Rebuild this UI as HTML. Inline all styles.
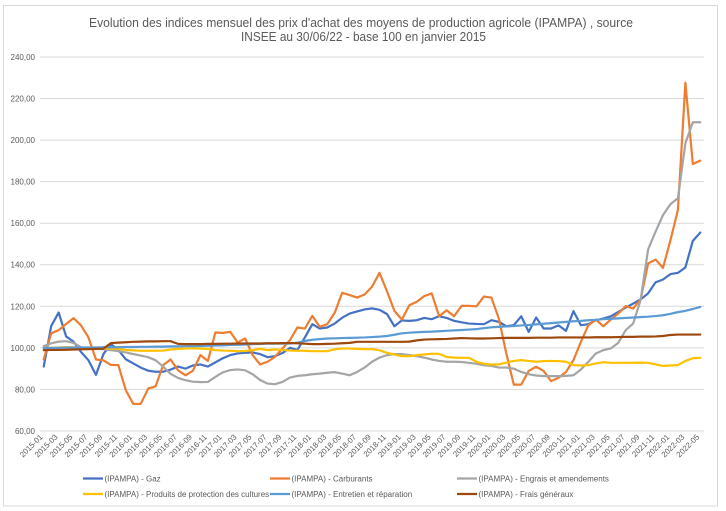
<!DOCTYPE html>
<html><head><meta charset="utf-8"><style>
html,body{margin:0;padding:0;background:#fff;}
svg{display:block;font-family:"Liberation Sans",Arial,sans-serif;}
.yl{font-size:8px;fill:#595959;text-anchor:end;}
.xl{font-size:7.8px;fill:#595959;text-anchor:end;}
.lg{font-size:8px;fill:#595959;}
.s{fill:none;stroke-width:2.2;stroke-linejoin:round;stroke-linecap:round;vector-effect:non-scaling-stroke;}
</style></head><body>
<svg width="726" height="511" viewBox="0 0 726 511" xmlns="http://www.w3.org/2000/svg">
<rect x="0" y="0" width="726" height="511" fill="#fff"/>
<rect x="3.5" y="5.5" width="714" height="500.5" fill="#fff" stroke="#D9D9D9" stroke-width="1"/>
<text x="361" y="27" font-size="12.5" fill="#595959" text-anchor="middle" textLength="544" lengthAdjust="spacingAndGlyphs">Evolution des indices mensuel des prix d'achat des moyens de production agricole (IPAMPA) , source</text>
<text x="363.5" y="41" font-size="12.5" fill="#595959" text-anchor="middle" textLength="245" lengthAdjust="spacingAndGlyphs">INSEE au 30/06/22 - base 100 en janvier 2015</text>
<g stroke="#D9D9D9" stroke-width="1">
<line x1="40" y1="57" x2="704" y2="57"/>
<line x1="40" y1="98.55" x2="704" y2="98.55"/>
<line x1="40" y1="140.1" x2="704" y2="140.1"/>
<line x1="40" y1="181.65" x2="704" y2="181.65"/>
<line x1="40" y1="223.2" x2="704" y2="223.2"/>
<line x1="40" y1="264.75" x2="704" y2="264.75"/>
<line x1="40" y1="306.3" x2="704" y2="306.3"/>
<line x1="40" y1="347.85" x2="704" y2="347.85"/>
<line x1="40" y1="389.4" x2="704" y2="389.4"/>
<line x1="40" y1="430.95" x2="704" y2="430.95"/>
</g>
<g class="yl">
<text x="35" y="60">240,00</text>
<text x="35" y="101.5">220,00</text>
<text x="35" y="143">200,00</text>
<text x="35" y="184.6">180,00</text>
<text x="35" y="226.2">160,00</text>
<text x="35" y="267.7">140,00</text>
<text x="35" y="309.3">120,00</text>
<text x="35" y="350.8">100,00</text>
<text x="35" y="392.4">80,00</text>
<text x="35" y="433.9">60,00</text>
</g>
<g transform="matrix(7.461 0 0 -2.0775 43.73 555.6)">
<polyline class="s" stroke="#4472C4" points="0,91 1,110.5 2,117 3,105.5 4,103 5,98 6,94 7,87 8,97 9,101.8 10,99 11,94.5 12,92.5 13,90.5 14,89 15,88.5 16,88.5 17,89.5 18,91 19,90 20,91.5 21,92 22,91 23,93 24,95 25,96.5 26,97.3 27,97.6 28,97.8 29,97 30,95.5 31,96 32,97.5 33,100 34,99 35,105 36,111.4 37,109.3 38,109.8 39,111.7 40,114.5 41,116.5 42,117.5 43,118.5 44,119 45,118.3 46,116.3 47,110.4 48,113.2 49,113 50,113.3 51,114.4 52,113.8 53,115.2 54,114.4 55,113 56,112.3 57,111.7 58,111.5 59,111.4 60,113.3 61,112.5 62,110.4 63,110.9 64,115.2 65,107.7 66,114.6 67,109.3 68,109.3 69,110.8 70,108.2 71,117.7 72,110.9 73,111.4 74,113.3 75,114.1 76,115.2 77,117.3 78,119.4 79,121.3 80,123.3 81,126.2 82,131.5 83,132.9 84,135.5 85,136.1 86,138.7 87,151.5 88,155.5"/>
<polyline class="s" stroke="#ED7D31" points="0,94.5 1,107 2,108.5 3,111.5 4,114.3 5,110.8 6,105 7,94.4 8,94 9,91.8 10,91.7 11,79.6 12,73 13,73 14,80.4 15,81.5 16,91.7 17,94.4 18,89.2 19,86.8 20,89 21,96.5 22,93.7 23,107.4 24,107.2 25,107.7 26,102.6 27,104.5 28,96.5 29,92 30,93.3 31,95.7 32,99.7 33,103.7 34,109.8 35,109.3 36,115.4 37,110.1 38,111.4 39,116.9 40,126.5 41,125.4 42,124.2 43,125.7 44,129.4 45,136.1 46,127.3 47,117.8 48,113.6 49,120.5 50,122.2 51,124.9 52,126.2 53,115.2 54,118.1 55,115.2 56,120.2 57,120.2 58,120 59,124.7 60,124.2 61,114.1 62,97.3 63,82.3 64,82.3 65,88.9 66,90.9 67,88.9 68,84 69,85.6 70,88.4 71,94.1 72,102.9 73,110.9 74,113.6 75,110.4 76,113.6 77,116.5 78,120.1 79,118.9 80,123.3 81,140.6 82,142.5 83,138.5 84,151.8 85,166.4 86,227.6 87,188.5 88,190.1"/>
<polyline class="s" stroke="#A5A5A5" points="0,100.8 1,102.2 2,103 3,103.2 4,102.4 5,100.3 6,100 7,99.8 8,99.3 9,98.9 10,98.4 11,97.8 12,97 13,96.3 14,95.5 15,94 16,91 17,87.5 18,85.5 19,84.4 20,83.7 21,83.5 22,83.6 23,86 24,88.2 25,89.3 26,89.6 27,89.2 28,87.3 29,84.5 30,82.8 31,82.5 32,83.6 33,85.7 34,86.5 35,86.8 36,87.3 37,87.6 38,88 39,88.3 40,87.6 41,86.8 42,88.4 43,90.5 44,93.3 45,95.3 46,96.5 47,97 48,97 49,96.5 50,96 51,95.3 52,94.4 53,93.7 54,93.3 55,93.3 56,93.2 57,92.8 58,92.3 59,91.6 60,91.3 61,90.5 62,90.5 63,90 64,88.4 65,87.3 66,86.7 67,86.4 68,86.4 69,86.4 70,86.5 71,86.8 72,89.6 73,93.3 74,97.3 75,98.9 76,99.7 77,102.4 78,108.5 79,111.7 80,123 81,147.3 82,155.9 83,163.9 84,169.2 85,172 86,198.5 87,208.6 88,208.6"/>
<polyline class="s" stroke="#FFC000" points="0,100 1,100 2,100.2 3,100.3 4,100.3 5,100 6,100 7,99.8 8,99.7 9,99.7 10,99.5 11,99 12,98.8 13,98.6 14,98.6 15,98.6 16,98.7 17,99.2 18,99.5 19,99.7 20,99.8 21,99.7 22,99.5 23,98.9 24,98.7 25,98.6 26,98.4 27,98.5 28,98.9 29,99.5 30,98.9 31,99.2 32,99 33,98.7 34,98.6 35,98.6 36,98.4 37,98.4 38,98.4 39,99.3 40,99.7 41,99.7 42,99.5 43,99.4 44,99.4 45,98.8 46,97.6 47,96.8 48,96 49,96 50,96.5 51,96.8 52,97.2 53,97.1 54,95.6 55,95.3 56,95.2 57,95.2 58,93.3 59,92.3 60,92 61,92 62,92.9 63,93.7 64,94.1 65,93.7 66,93.3 67,93.6 68,93.7 69,93.6 70,93.3 71,91.7 72,91.5 73,91.7 74,92.5 75,93.1 76,92.8 77,92.8 78,92.8 79,92.8 80,92.9 81,92.8 82,92 83,91.3 84,91.5 85,91.7 86,93.7 87,95 88,95.2"/>
<polyline class="s" stroke="#5B9BD5" points="0,100 1,100 2,100 3,100.1 4,100.1 5,100.1 6,100.2 7,100.2 8,100.3 9,100.3 10,100.3 11,100.4 12,100.4 13,100.5 14,100.5 15,100.6 16,100.6 17,100.7 18,100.7 19,100.8 20,100.8 21,100.9 22,101 23,101.1 24,101.2 25,101.4 26,101.5 27,101.6 28,101.8 29,101.9 30,102 31,102 32,102 33,102.1 34,102.5 35,103.3 36,103.9 37,104.2 38,104.5 39,104.6 40,104.7 41,104.8 42,104.9 43,105 44,105.2 45,105.4 46,105.7 47,106.3 48,107 49,107.3 50,107.5 51,107.7 52,107.8 53,108 54,108.2 55,108.4 56,108.6 57,108.8 58,109 59,109.5 60,109.9 61,110.1 62,110.3 63,110.5 64,110.8 65,111 66,111.3 67,111.6 68,111.9 69,112.2 70,112.5 71,112.8 72,113 73,113.3 74,113.5 75,113.8 76,114 77,114.2 78,114.4 79,114.6 80,114.8 81,115 82,115.3 83,115.7 84,116.4 85,117.2 86,117.8 87,118.7 88,119.7"/>
<polyline class="s" stroke="#9E480E" points="0,98.9 1,99 2,99 3,99.1 4,99.2 5,99.3 6,99.4 7,99.5 8,99.6 9,102.3 10,102.5 11,102.7 12,102.9 13,103 14,103.1 15,103.1 16,103.2 17,103.2 18,101.9 19,101.8 20,101.8 21,101.8 22,101.9 23,101.9 24,102 25,102 26,102.1 27,102.1 28,102.1 29,102.1 30,102.2 31,102.2 32,102.3 33,102.3 34,102.2 35,102 36,101.8 37,101.8 38,101.9 39,102 40,102.2 41,102.4 42,102.9 43,102.9 44,102.9 45,102.9 46,102.9 47,102.9 48,102.9 49,103 50,103.6 51,104 52,104.1 53,104.2 54,104.3 55,104.5 56,104.7 57,104.6 58,104.5 59,104.5 60,104.6 61,104.7 62,104.8 63,104.8 64,104.8 65,104.8 66,104.9 67,104.9 68,104.9 69,105 70,105 71,105 72,105 73,105 74,105.1 75,105.1 76,105.1 77,105.2 78,105.3 79,105.3 80,105.4 81,105.4 82,105.5 83,105.7 84,106.2 85,106.4 86,106.4 87,106.4 88,106.4"/>
</g>
<g class="xl" transform="translate(-2.5,-3.5)">
<text transform="translate(45.7,441) rotate(-45)">2015-01</text>
<text transform="translate(60.65,441) rotate(-45)">2015-03</text>
<text transform="translate(75.57,441) rotate(-45)">2015-05</text>
<text transform="translate(90.5,441) rotate(-45)">2015-07</text>
<text transform="translate(105.4,441) rotate(-45)">2015-09</text>
<text transform="translate(120.3,441) rotate(-45)">2015-11</text>
<text transform="translate(135.3,441) rotate(-45)">2016-01</text>
<text transform="translate(150.2,441) rotate(-45)">2016-03</text>
<text transform="translate(165.1,441) rotate(-45)">2016-05</text>
<text transform="translate(180.0,441) rotate(-45)">2016-07</text>
<text transform="translate(195.0,441) rotate(-45)">2016-09</text>
<text transform="translate(209.9,441) rotate(-45)">2016-11</text>
<text transform="translate(224.8,441) rotate(-45)">2017-01</text>
<text transform="translate(239.7,441) rotate(-45)">2017-03</text>
<text transform="translate(254.6,441) rotate(-45)">2017-05</text>
<text transform="translate(269.6,441) rotate(-45)">2017-07</text>
<text transform="translate(284.5,441) rotate(-45)">2017-09</text>
<text transform="translate(299.4,441) rotate(-45)">2017-11</text>
<text transform="translate(314.3,441) rotate(-45)">2018-01</text>
<text transform="translate(329.3,441) rotate(-45)">2018-03</text>
<text transform="translate(344.2,441) rotate(-45)">2018-05</text>
<text transform="translate(359.1,441) rotate(-45)">2018-07</text>
<text transform="translate(374.0,441) rotate(-45)">2018-09</text>
<text transform="translate(388.9,441) rotate(-45)">2018-11</text>
<text transform="translate(403.9,441) rotate(-45)">2019-01</text>
<text transform="translate(418.8,441) rotate(-45)">2019-03</text>
<text transform="translate(433.7,441) rotate(-45)">2019-05</text>
<text transform="translate(448.6,441) rotate(-45)">2019-07</text>
<text transform="translate(463.5,441) rotate(-45)">2019-09</text>
<text transform="translate(478.5,441) rotate(-45)">2019-11</text>
<text transform="translate(493.4,441) rotate(-45)">2020-01</text>
<text transform="translate(508.3,441) rotate(-45)">2020-03</text>
<text transform="translate(523.2,441) rotate(-45)">2020-05</text>
<text transform="translate(538.2,441) rotate(-45)">2020-07</text>
<text transform="translate(553.1,441) rotate(-45)">2020-09</text>
<text transform="translate(568.0,441) rotate(-45)">2020-11</text>
<text transform="translate(582.9,441) rotate(-45)">2021-01</text>
<text transform="translate(597.8,441) rotate(-45)">2021-03</text>
<text transform="translate(612.8,441) rotate(-45)">2021-05</text>
<text transform="translate(627.7,441) rotate(-45)">2021-07</text>
<text transform="translate(642.6,441) rotate(-45)">2021-09</text>
<text transform="translate(657.5,441) rotate(-45)">2021-11</text>
<text transform="translate(672.4,441) rotate(-45)">2022-01</text>
<text transform="translate(687.4,441) rotate(-45)">2022-03</text>
<text transform="translate(702.3,441) rotate(-45)">2022-05</text>
</g>
<g stroke-width="2.2">
<line x1="83" y1="478.5" x2="103" y2="478.5" stroke="#4472C4"/>
<line x1="270" y1="478.5" x2="290" y2="478.5" stroke="#ED7D31"/>
<line x1="457" y1="478.5" x2="477" y2="478.5" stroke="#A5A5A5"/>
<line x1="83" y1="494" x2="103" y2="494" stroke="#FFC000"/>
<line x1="270" y1="494" x2="290" y2="494" stroke="#5B9BD5"/>
<line x1="457" y1="494" x2="477" y2="494" stroke="#9E480E"/>
</g>
<g class="lg">
<text x="104.5" y="481.5">(IPAMPA) - Gaz</text>
<text x="291.5" y="481.5">(IPAMPA) - Carburants</text>
<text x="478.5" y="481.5">(IPAMPA) - Engrais et amendements</text>
<text x="104.5" y="497">(IPAMPA) - Produits de protection des cultures</text>
<text x="291.5" y="497">(IPAMPA) - Entretien et réparation</text>
<text x="478.5" y="497">(IPAMPA) - Frais généraux</text>
</g>
</svg>
</body></html>
